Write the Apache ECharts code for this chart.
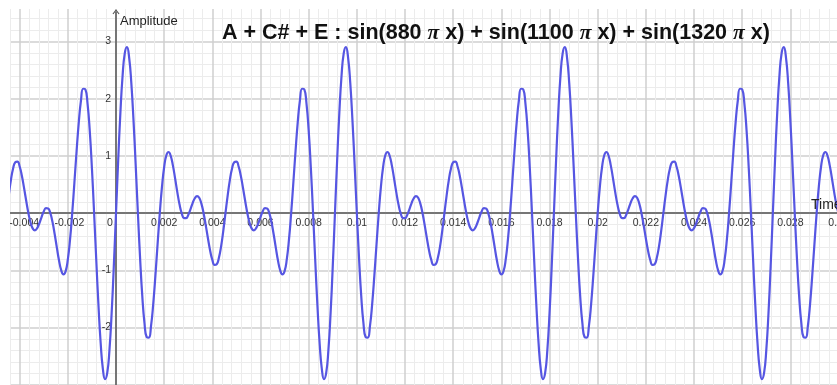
<!DOCTYPE html>
<html>
<head>
<meta charset="utf-8">
<script src="https://cdn.jsdelivr.net/npm/echarts@6/dist/echarts.min.js"></script>
<style>html,body{margin:0;padding:0;background:#fff}#c{width:837px;height:385px}</style>
</head>
<body>
<div id="c"></div>
<script>
// Sampled signal: sample i is at time (firstSample + i) / sampleRate seconds
const sampleRate = 11000;
const firstSample = -54;
const amplitude = [
-0.891,-0.780,-0.579,-0.308,0,0.308,0.579,0.780,0.891,0.902,0.817,0.655,0.442,0.213,0,-0.167,-0.269,-0.299,-0.261,-0.176,-0.068,0.030,0.087,0.082,0,-0.155,-0.368,-0.606,-0.832,-1,-1.070,-1.012,-0.808,-0.463,0,0.537,1.088,1.589,1.970,2.176,2.164,1.917,1.445,0.785,0,-0.831,-1.618,-2.273,-2.720,-2.902,-2.793,-2.398,-1.754,-0.926,
0,0.926,1.754,2.398,2.793,2.902,2.720,2.273,1.618,0.831,0,-0.785,-1.445,-1.917,-2.164,-2.176,-1.970,-1.589,-1.088,-0.537,0,0.463,0.808,1.012,1.070,1,0.832,0.606,0.368,0.155,0,-0.082,-0.087,-0.030,0.068,0.176,0.261,0.299,0.269,0.167,0,-0.213,-0.442,-0.655,-0.817,-0.902,-0.891,-0.780,-0.579,-0.308,0,0.308,0.579,0.780,0.891,0.902,0.817,0.655,0.442,0.213,0,-0.167,-0.269,-0.299,-0.261,-0.176,-0.068,0.030,0.087,0.082,0,-0.155,-0.368,-0.606,-0.832,-1,-1.070,-1.012,-0.808,-0.463,0,0.537,1.088,1.589,1.970,2.176,2.164,1.917,1.445,0.785,0,-0.831,-1.618,-2.273,-2.720,-2.902,-2.793,-2.398,-1.754,-0.926,
0,0.926,1.754,2.398,2.793,2.902,2.720,2.273,1.618,0.831,0,-0.785,-1.445,-1.917,-2.164,-2.176,-1.970,-1.589,-1.088,-0.537,0,0.463,0.808,1.012,1.070,1,0.832,0.606,0.368,0.155,0,-0.082,-0.087,-0.030,0.068,0.176,0.261,0.299,0.269,0.167,0,-0.213,-0.442,-0.655,-0.817,-0.902,-0.891,-0.780,-0.579,-0.308,0,0.308,0.579,0.780,0.891,0.902,0.817,0.655,0.442,0.213,0,-0.167,-0.269,-0.299,-0.261,-0.176,-0.068,0.030,0.087,0.082,0,-0.155,-0.368,-0.606,-0.832,-1,-1.070,-1.012,-0.808,-0.463,0,0.537,1.088,1.589,1.970,2.176,2.164,1.917,1.445,0.785,0,-0.831,-1.618,-2.273,-2.720,-2.902,-2.793,-2.398,-1.754,-0.926,
0,0.926,1.754,2.398,2.793,2.902,2.720,2.273,1.618,0.831,0,-0.785,-1.445,-1.917,-2.164,-2.176,-1.970,-1.589,-1.088,-0.537,0,0.463,0.808,1.012,1.070,1,0.832,0.606,0.368,0.155,0,-0.082,-0.087,-0.030,0.068,0.176,0.261,0.299,0.269,0.167,0,-0.213,-0.442,-0.655,-0.817,-0.902,-0.891,-0.780,-0.579,-0.308,0,0.308,0.579,0.780,0.891,0.902,0.817,0.655,0.442,0.213,0,-0.167,-0.269,-0.299,-0.261,-0.176,-0.068,0.030,0.087,0.082,0,-0.155,-0.368,-0.606,-0.832,-1,-1.070,-1.012,-0.808,-0.463,0,0.537,1.088,1.589,1.970,2.176,2.164,1.917,1.445,0.785,0,-0.831,-1.618,-2.273,-2.720,-2.902,-2.793,-2.398,-1.754,-0.926,
0,0.926,1.754,2.398,2.793,2.902,2.720,2.273,1.618,0.831,0,-0.785,-1.445,-1.917,-2.164,-2.176,-1.970,-1.589,-1.088,-0.537,0,0.463,0.808,1.012,1.070,1,0.832,0.606,0.368,0.155,0,-0.082
];
const xTickInterval = 0.002;
const yTickInterval = 1;
const titleText = 'A + C# + E : sin(880 π x) + sin(1100 π x) + sin(1320 π x)';
const xName = 'Time';
const yName = 'Amplitude';

const points = amplitude.map((v, i) => [(firstSample + i) / sampleRate, v]);

const titleRich = '{b|' + titleText.replace(/π/g, '}{i|π}{b|') + '}';

const chart = echarts.init(document.getElementById('c'), null, {renderer: 'canvas'});
const gridMajor = '#cfcfcf', gridMinor = '#ececec', axisCol = '#555';
const lblFont = {color: '#333', fontFamily: 'Liberation Sans', fontSize: 10.5};
chart.setOption({
  animation: false,
  backgroundColor: '#fff',
  title: {
    text: titleRich, left: 222, top: 22, padding: 0,
    textStyle: {
      rich: {
        b: {fontFamily: 'Liberation Sans', fontWeight: 'bold', fontSize: 21.5, color: '#111'},
        i: {fontFamily: 'Liberation Serif', fontStyle: 'italic', fontWeight: 'bold', fontSize: 21.5, color: '#111'}
      }
    }
  },
  grid: {left: -28.5, right: -49.7, top: -15.6, bottom: -57, containLabel: false, outerBoundsMode: 'none'},
  xAxis: {
    type: 'value', min: -0.006, max: 0.032, interval: xTickInterval,
    position: 'bottom', offset: -228.8,
    axisLine: {onZero: false, lineStyle: {color: axisCol, width: 1.5}},
    axisTick: {show: false},
    minorTick: {show: false, splitNumber: 5},
    splitLine: {show: true, lineStyle: {color: gridMajor, width: 1.5}},
    minorSplitLine: {show: true, lineStyle: {color: gridMinor, width: 1}},
    axisLabel: Object.assign({
      interval: 0, margin: 4, hideOverlap: false,
      formatter: v => {
        const s = +(+v).toFixed(4);
        if (s === 0) return '{z|0}';
        if (s < -0.003) return '{e|' + s + '}';
        if (s < 0) return '{n|' + s + '}';
        return String(s);
      },
      rich: {
        z: Object.assign({padding: [0, 12, 0, 0]}, lblFont),
        e: Object.assign({padding: [0, 0, 0, 9]}, lblFont),
        n: Object.assign({padding: [0, 0, 0, 3]}, lblFont)
      }
    }, lblFont)
  },
  yAxis: {
    type: 'value', min: -4, max: 4, interval: yTickInterval,
    position: 'left', offset: -144.5,
    axisLine: {show: false, onZero: false},
    axisTick: {show: false},
    minorTick: {show: false, splitNumber: 5},
    splitLine: {show: true, lineStyle: {color: gridMajor, width: 1.5}},
    minorSplitLine: {show: true, lineStyle: {color: gridMinor, width: 1}},
    axisLabel: Object.assign({
      margin: 5,
      formatter: v => (v === 0 || Math.abs(v) >= 3.5 || v === -3) ? '' : String(v)
    }, lblFont)
  },
  series: [{
    type: 'line', data: points, showSymbol: false, smooth: true,
    lineStyle: {color: '#5656e2', width: 2.2},
    z: 5,
    markLine: {
      silent: true, animation: false,
      symbol: ['none', 'path://M0,5 L4,0 L8,5 L7,5.8 L4,1.8 L1,5.8 Z'],
      symbolSize: [7, 5],
      label: {show: false},
      lineStyle: {color: axisCol, width: 1.5, type: 'solid'},
      data: [[{coord: [0, -4]}, {coord: [0, 3.52]}]]
    }
  }],
  graphic: [
    {type: 'rect', left: 0, top: 0, shape: {width: 10, height: 385}, style: {fill: '#fff'}, z: 50, silent: true},
    {type: 'rect', left: 0, top: 0, shape: {width: 837, height: 9}, style: {fill: '#fff'}, z: 50, silent: true},
    {type: 'text', z: 60, style: {text: yName, x: 120, y: 21, textVerticalAlign: 'middle', font: '13px "Liberation Sans"', fill: '#222'}},
    {type: 'text', z: 60, style: {text: xName, x: 811, y: 205, textVerticalAlign: 'middle', font: '14px "Liberation Sans"', fill: '#222'}}
  ]
});
</script>
</body>
</html>
